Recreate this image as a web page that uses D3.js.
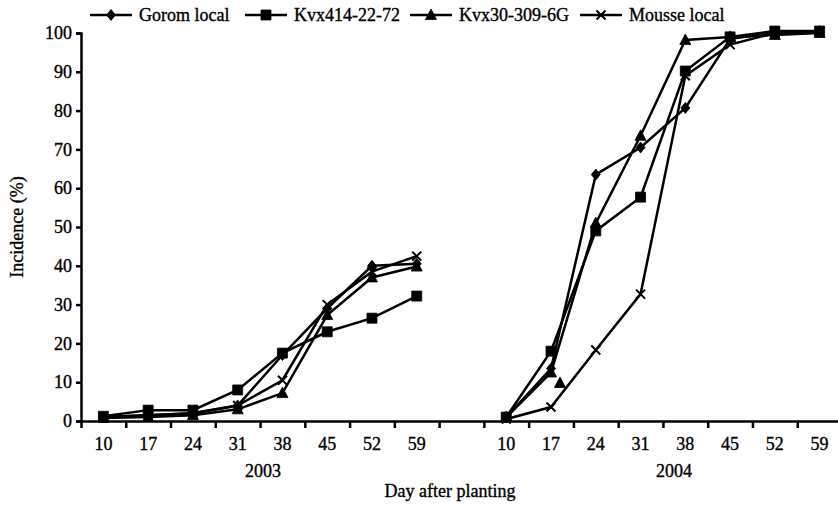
<!DOCTYPE html>
<html>
<head>
<meta charset="utf-8">
<script src="https://cdn.jsdelivr.net/npm/d3@7"></script>
<style>
  body { margin: 0; background: #fff; }
  text { font-family: "Liberation Serif", "Times New Roman", serif; fill: #000; stroke: #000; stroke-width: 0.35px; }
</style>
</head>
<body>
<div id="chart"></div>
<script>
// data
const days = [10, 17, 24, 31, 38, 45, 52, 59];
const years = ['2003', '2004'];
const yTicks = [0, 10, 20, 30, 40, 50, 60, 70, 80, 90, 100];
const seriesNames = ['Gorom local', 'Kvx414-22-72', 'Kvx30-309-6G', 'Mousse local'];

const gorom2003  = [1, 1.5, 2, 4, 17, 29, 40, 40.5];
const kvx414_2003 = [1.2, 2.8, 2.8, 8, 17.5, 23, 26.5, 32.2];
const kvx30_2003  = [0.8, 1, 1.5, 3, 7.2, 27.3, 37, 39.8];
const mousse2003 = [1, 1.5, 2, 4, 10.5, 30, 38.5, 42.5];

const gorom2004  = [1, 13.5, 63.5, 70.5, 80.7, 98.5, 100, 100.5];
const kvx414_2004 = [1, 18, 49, 57.7, 90.2, 99, 100.5, 100.5];
const kvx30_2004  = [1, 12.5, 51, 73.5, 98.2, 99, 99.5, 100];
const mousse2004 = [0.5, 3.6, 18.3, 32.7, 89, 97, 100, 100.5];

// a lone triangle marker sitting just right of day 17 in 2004 (slot index, value)
const strayTriangle = [{ slot: 10.7, value: 9.8 }];

const w = 838;
const h = 508;
const plotLeft = 81, plotRight = 842, plotTop = 33, plotBottom = 421;
const slots = 17; // 8 days + 1 gap + 8 days

const svg = d3.select('#chart')
  .append('svg')
  .attr('width', w)
  .attr('height', h);

const x = d3.scaleLinear().domain([0, slots]).range([plotLeft, plotRight]);
const y = d3.scaleLinear().domain([0, 100]).range([plotBottom, plotTop]);

// slot index of each point
const slotOf = (yearIdx, i) => yearIdx * 9 + i + 0.5;

const series = [
  { name: seriesNames[0], shape: 'diamond', data: [gorom2003, gorom2004] },
  { name: seriesNames[1], shape: 'square',  data: [kvx414_2003, kvx414_2004] },
  { name: seriesNames[2], shape: 'triangle', data: [kvx30_2003, kvx30_2004] },
  { name: seriesNames[3], shape: 'cross',   data: [mousse2003, mousse2004] }
];

const markerPath = shape => {
  if (shape === 'diamond') return 'M0,-5.5L4.5,0L0,5.5L-4.5,0Z';
  if (shape === 'square') return 'M-5,-5H5V5H-5Z';
  if (shape === 'triangle') return 'M0,-6L5.5,4.5H-5.5Z';
  return 'M-4.5,-4.5L4.5,4.5M-4.5,4.5L4.5,-4.5';
};

const drawMarker = (g, shape) => {
  g.append('path')
    .attr('d', markerPath(shape))
    .attr('fill', shape === 'cross' ? 'none' : '#000')
    .attr('stroke', '#000')
    .attr('stroke-width', shape === 'cross' ? 2 : 0.8);
};

// axes
const yAxis = d3.axisLeft(y).tickValues(yTicks).tickSize(5).tickPadding(4);
svg.append('g')
  .attr('transform', `translate(${plotLeft},0)`)
  .call(yAxis)
  .call(g => g.select('.domain').attr('stroke-width', 2.5))
  .call(g => g.selectAll('.tick line').attr('stroke-width', 2.5))
  .call(g => g.selectAll('.tick text').style('font-size', '18px').style('font-family', '"Liberation Serif", serif'));

const xAxis = d3.axisBottom(x).tickValues(d3.range(0, slots + 1)).tickSize(7).tickSizeOuter(0).tickFormat('');
svg.append('g')
  .attr('transform', `translate(0,${plotBottom})`)
  .call(xAxis)
  .call(g => g.select('.domain').attr('stroke-width', 2.5))
  .call(g => g.selectAll('.tick line').attr('stroke-width', 2.5));

// day labels under each slot
years.forEach((yr, yi) => {
  svg.append('g')
    .selectAll('text')
    .data(days)
    .join('text')
    .attr('x', (d, i) => x(slotOf(yi, i)))
    .attr('y', 450)
    .attr('text-anchor', 'middle')
    .style('font-size', '18px')
    .text(d => d);

  svg.append('text')
    .attr('x', x(yi * 9 + 4) + (yi ? 11 : 3))
    .attr('y', 477)
    .attr('text-anchor', 'middle')
    .style('font-size', '18px')
    .text(yr);
});

svg.append('text')
  .attr('x', 450)
  .attr('y', 497)
  .attr('text-anchor', 'middle')
  .style('font-size', '18px')
  .text('Day after planting');

svg.append('text')
  .attr('transform', `translate(23,${(plotTop + plotBottom) / 2}) rotate(-90)`)
  .attr('text-anchor', 'middle')
  .style('font-size', '18px')
  .text('Incidence (%)');

// lines and markers
const line = d3.line().x(d => x(d.slot)).y(d => y(d.value));

series.forEach(s => {
  s.data.forEach((vals, yi) => {
    const pts = vals.map((v, i) => ({ slot: slotOf(yi, i), value: v }));
    svg.append('path')
      .datum(pts)
      .attr('d', line)
      .attr('fill', 'none')
      .attr('stroke', '#000')
      .attr('stroke-width', 2.5);
    pts.forEach(p => {
      const g = svg.append('g').attr('transform', `translate(${x(p.slot)},${y(p.value)})`);
      drawMarker(g, s.shape);
    });
  });
});

strayTriangle.forEach(p => {
  const g = svg.append('g').attr('transform', `translate(${x(p.slot)},${y(p.value)})`);
  drawMarker(g, 'triangle');
});

// legend
const legendX = [90, 245, 410, 580];
const legend = svg.append('g').attr('transform', 'translate(0,15)');
series.forEach((s, i) => {
  const g = legend.append('g').attr('transform', `translate(${legendX[i]},0)`);
  g.append('line')
    .attr('x1', 0).attr('x2', 42)
    .attr('stroke', '#000')
    .attr('stroke-width', 2.5);
  const m = g.append('g').attr('transform', 'translate(21,0)');
  drawMarker(m, s.shape);
  g.append('text')
    .attr('x', 49)
    .attr('y', 5.5)
    .style('font-size', '18px')
    .text(s.name);
});
</script>
</body>
</html>
